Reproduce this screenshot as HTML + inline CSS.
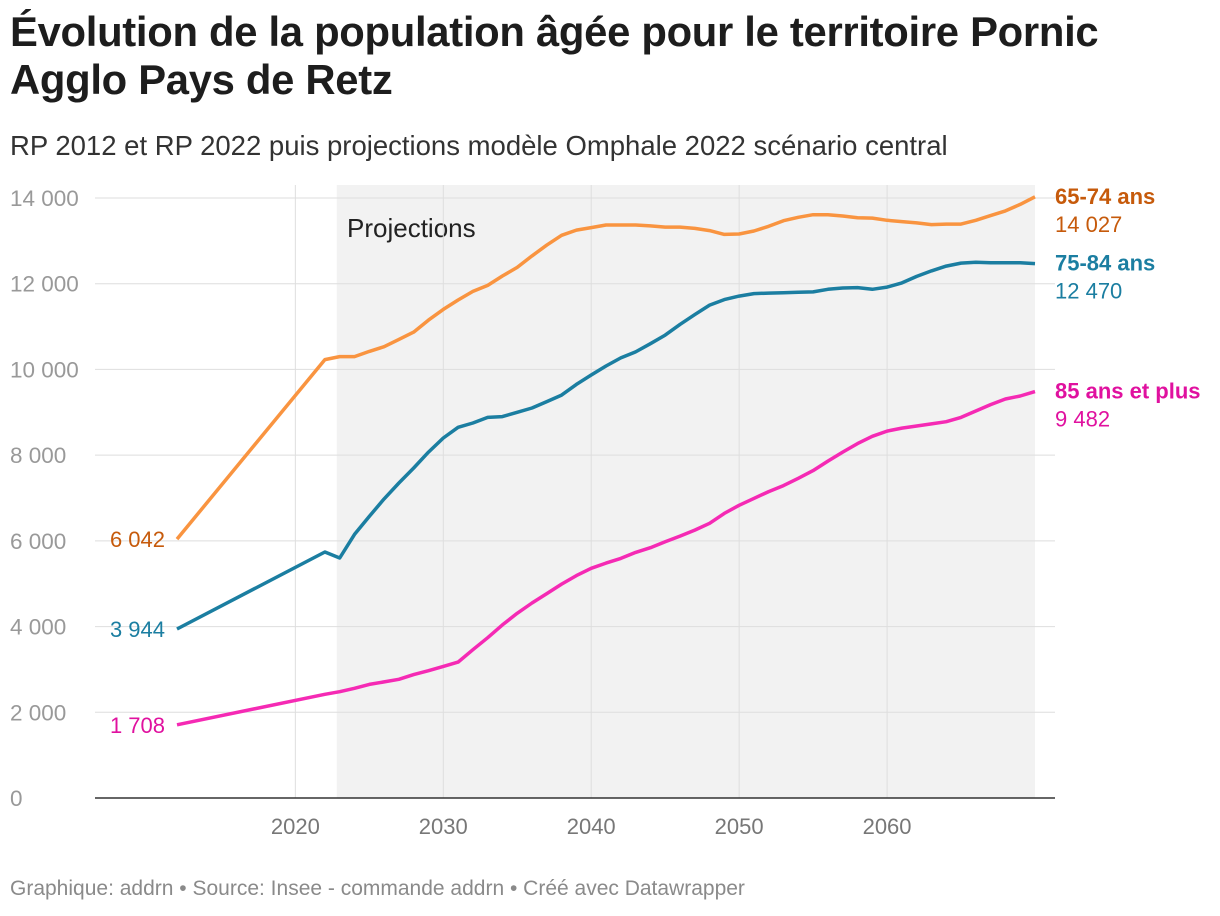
<!DOCTYPE html>
<html><head><meta charset="utf-8">
<style>
body{margin:0;background:#fff;font-family:"Liberation Sans",Roboto,sans-serif;}
#wrap{position:relative;width:1220px;height:916px;overflow:hidden;}
h1{position:absolute;left:10px;top:8px;margin:0;font-size:41.8px;line-height:48px;font-weight:bold;color:#1d1d1d;letter-spacing:-0.3px;}
.sub{position:absolute;left:10px;top:130px;font-size:27.5px;color:#333;}
.foot{position:absolute;left:10px;top:877px;font-size:21px;color:#8a8a8a;}
svg{position:absolute;left:0;top:0;}
</style></head><body>
<div id="wrap">
<h1>Évolution de la population âgée pour le territoire Pornic<br>Agglo Pays de Retz</h1>
<div class="sub">RP 2012 et RP 2022 puis projections modèle Omphale 2022 scénario central</div>
<div class="foot">Graphique: addrn • Source: Insee - commande addrn • Créé avec Datawrapper</div>
<svg id="chart" width="1220" height="916"></svg>
</div>
<script>
const years=[2012,2022,2023,2024,2025,2026,2027,2028,2029,2030,2031,2032,2033,2034,2035,2036,2037,2038,2039,2040,2041,2042,2043,2044,2045,2046,2047,2048,2049,2050,2051,2052,2053,2054,2055,2056,2057,2058,2059,2060,2061,2062,2063,2064,2065,2066,2067,2068,2069,2070];
const s6574=[6042,10230,10300,10300,10420,10530,10700,10870,11150,11400,11620,11820,11960,12180,12380,12650,12900,13130,13250,13310,13370,13370,13370,13350,13320,13320,13290,13240,13150,13160,13230,13340,13470,13550,13610,13610,13580,13540,13530,13480,13450,13420,13380,13390,13390,13480,13590,13700,13850,14027];
const s7584=[3944,5740,5600,6150,6570,6980,7350,7700,8070,8400,8650,8750,8880,8900,9000,9100,9250,9400,9650,9870,10080,10270,10410,10600,10800,11050,11280,11500,11630,11710,11770,11780,11790,11800,11810,11870,11900,11910,11870,11920,12020,12170,12300,12410,12480,12500,12490,12490,12490,12470];
const s85=[1708,2420,2480,2560,2650,2710,2770,2880,2970,3070,3170,3460,3740,4040,4310,4550,4770,4990,5190,5360,5480,5590,5730,5840,5980,6110,6250,6410,6640,6830,6990,7150,7290,7460,7640,7860,8070,8270,8440,8560,8630,8680,8730,8780,8880,9030,9180,9310,9380,9482];
const yTicks=[0,2000,4000,6000,8000,10000,12000,14000];
const yTickLabels=["0","2 000","4 000","6 000","8 000","10 000","12 000","14 000"];
const xTicks=[2020,2030,2040,2050,2060];
const series=[
 {name:"65-74 ans",vals:s6574,color:"#f99440",lab:"#c65a0b",key:"65-74"},
 {name:"75-84 ans",vals:s7584,color:"#1b7ea1",lab:"#1b7ea1",key:"75-84"},
 {name:"85 ans et plus",vals:s85,color:"#f52ab4",lab:"#e0119f",key:"85plus"}
];
const svg=document.getElementById('chart');
const NS="http://www.w3.org/2000/svg";
const x=v=>177+(v-2012)*(1035-177)/58;
const y=v=>798-v*600/14000;
const fmt=n=>String(n).replace(/\B(?=(\d{3})+(?!\d))/g," ");
function mk(t,a,txt){const e=document.createElementNS(NS,t);for(const k in a)e.setAttribute(k,a[k]);if(txt!==undefined)e.textContent=txt;svg.appendChild(e);return e;}
let r=mk('rect',{x:x(2022.8),y:185,width:x(2070)-x(2022.8),height:798-185,fill:'#f2f2f2'});


let pt=mk('text',{x:347,y:237,'font-size':26,fill:'#222'},'Projections');


yTicks.forEach((t,i)=>{
 if(t>0){let g=mk('line',{x1:95,x2:1055,y1:y(t),y2:y(t),stroke:'#dedede','stroke-width':1});
 
 }
 let l=mk('text',{x:10,y:y(t)+8,'font-size':22.5,fill:'#999'},yTickLabels[i]);
 
 
});
xTicks.forEach(t=>{
 let g=mk('line',{x1:x(t),x2:x(t),y1:185,y2:798,stroke:'#dedede','stroke-width':1});
 
 
 let l=mk('text',{x:x(t),y:834,'font-size':22,fill:'#777','text-anchor':'middle'},t);
 
 
});
let ax=mk('line',{x1:95,x2:1055,y1:798,y2:798,stroke:'#333','stroke-width':1.5});


series.forEach(s=>{
 const d=s.vals.map((v,i)=>(i?'L':'M')+x(years[i]).toFixed(1)+','+y(v).toFixed(1)).join('');
 let p=mk('path',{d:d,fill:'none',stroke:s.color,'stroke-width':3.5,'stroke-linejoin':'round'});
 
 
 const ly=y(s.vals[s.vals.length-1]);
 let n=mk('text',{x:1055,y:ly+7,'font-size':22,'font-weight':'bold',fill:s.lab},s.name);
 
 
 let v=mk('text',{x:1055,y:ly+35,'font-size':22,fill:s.lab},fmt(s.vals[s.vals.length-1]));
 
 
 let st=mk('text',{x:165,y:y(s.vals[0])+8,'font-size':22,fill:s.lab,'text-anchor':'end'},fmt(s.vals[0]));
 
 
});
</script>
</body></html>
